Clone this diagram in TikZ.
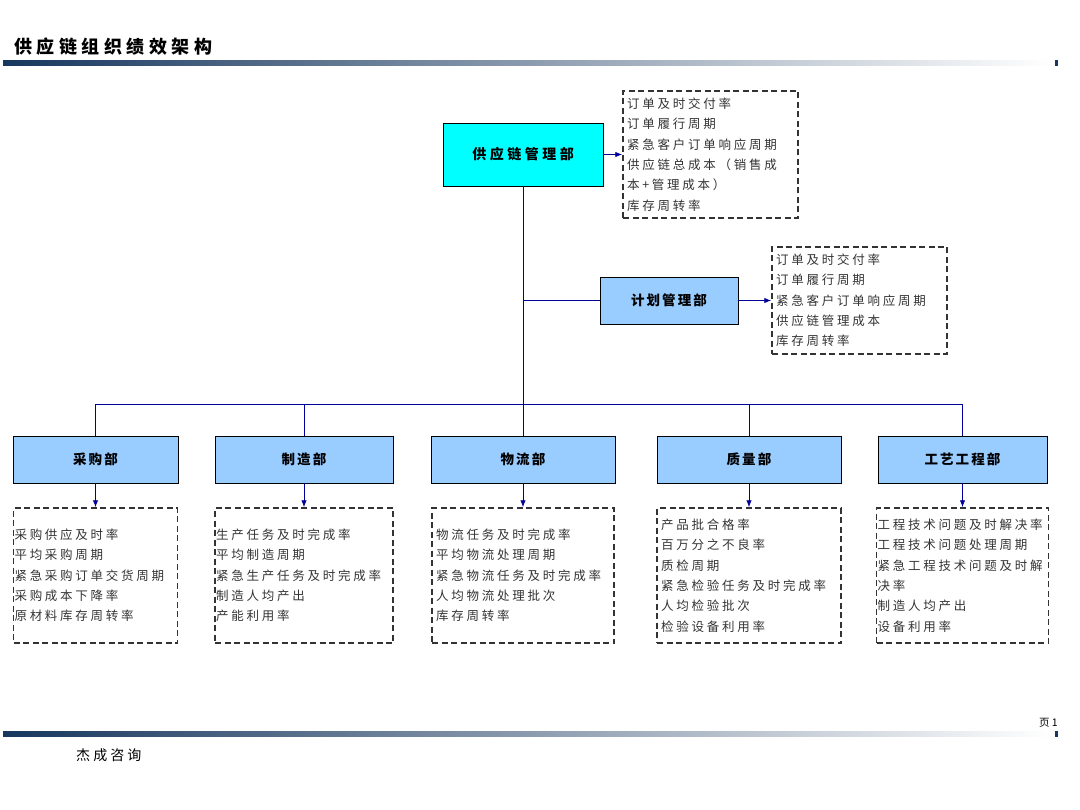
\documentclass[tikz,border=0pt]{standalone}
\usepackage{fontspec}
\setmainfont{Noto Sans CJK SC}
\newfontfamily\kpifont[LetterSpace=22]{Noto Sans CJK SC}
\newfontfamily\deptfont[LetterSpace=15]{Noto Sans CJK SC}
\newfontfamily\headfont[LetterSpace=25]{Noto Sans CJK SC}
\usepackage{xcolor}
\usetikzlibrary{shapes,arrows,arrows.meta}
\definecolor{linkblue}{HTML}{000099}
\definecolor{barnavy}{HTML}{17375E}
\definecolor{deptblue}{HTML}{99CCFF}
\definecolor{scmcyan}{HTML}{00FFFF}
\definecolor{kpigray}{HTML}{333333}

\begin{document}
\begin{tikzpicture}[x=1pt,y=-1pt,
    deptbox/.style={draw=black, fill=deptblue, minimum height=47pt, inner sep=0pt,
        font=\deptfont\bfseries\fontsize{13.5}{16}\selectfont},
    kpibox/.style={draw=kpigray, dash pattern=on 6pt off 3.5pt, line width=1.5pt,
        align=left, inner xsep=4pt, inner ysep=0pt, minimum height=135pt, text=kpigray,
        font=\kpifont\fontsize{12.5}{20.3}\selectfont},
    link/.style={draw=linkblue, line width=0.9pt},
    tobox/.style={link, -{Latex[length=7pt,width=5.5pt]}}]
    \useasboundingbox (0,0) rectangle (1080,810);
    % header and footer bars
    \shade[left color=barnavy, right color=white] (3,60.5) rectangle (1052,66);
    \fill[barnavy] (1055,60.5) rectangle (1058,66);
    \shade[left color=barnavy, right color=white] (3,731) rectangle (1052,736.5);
    \fill[barnavy] (1055,731) rectangle (1058,736.5);
    \node[anchor=west, inner sep=0pt, font=\headfont\bfseries\fontsize{18}{20}\selectfont] (title) at (14,47) {供应链组织绩效架构};
    \node[anchor=west, inner sep=0pt, font=\kpifont\fontsize{14}{16}\selectfont] (brand) at (76,755) {杰成咨询};
    \node[anchor=east, inner sep=0pt, font=\fontsize{10.5}{12}\selectfont] (page) at (1058,723) {页 1};

    % departments
    \node[deptbox, fill=scmcyan, minimum width=160pt, minimum height=63pt,
        font=\headfont\bfseries\fontsize{14}{16}\selectfont] (scm) at (523,154.5) {供应链管理部};
    \node[deptbox, minimum width=138pt] (plan) at (669,300.5) {计划管理部};
    \node[deptbox, minimum width=165pt] (cg) at (95.5,459.5) {采购部};
    \node[deptbox, minimum width=178pt] (zz) at (304,459.5) {制造部};
    \node[deptbox, minimum width=184pt] (wl) at (523,459.5) {物流部};
    \node[deptbox, minimum width=184pt] (zl) at (749,459.5) {质量部};
    \node[deptbox, minimum width=169pt] (gy) at (962.5,459.5) {工艺工程部};

    % indicators
    \node[kpibox, minimum height=127pt, text width=167pt] (kpi-scm) at (710.5,154.5)
        {订单及时交付率\\订单履行周期\\紧急客户订单响应周期\\供应链总成本（销售成\\本+管理成本）\\库存周转率};
    \node[kpibox, minimum height=107pt, text width=167pt] (kpi-plan) at (859.5,300.5)
        {订单及时交付率\\订单履行周期\\紧急客户订单响应周期\\供应链管理成本\\库存周转率};
    \node[kpibox, inner xsep=1pt, text width=162pt] (kpi-cg) at (95.5,575.5)
        {采购供应及时率\\平均采购周期\\紧急采购订单交货周期\\采购成本下降率\\原材料库存周转率};
    \node[kpibox, inner xsep=1pt, text width=176pt] (kpi-zz) at (304,575.5)
        {生产任务及时完成率\\平均制造周期\\紧急生产任务及时完成率\\制造人均产出\\产能利用率};
    \node[kpibox, text width=174pt] (kpi-wl) at (523,575.5)
        {物流任务及时完成率\\平均物流处理周期\\紧急物流任务及时完成率\\人均物流处理批次\\库存周转率};
    \node[kpibox, text width=176pt] (kpi-zl) at (749,575.5)
        {产品批合格率\\百万分之不良率\\质检周期\\紧急检验任务及时完成率\\人均检验批次\\检验设备利用率};
    \node[kpibox, inner xsep=1pt, text width=170pt] (kpi-gy) at (962.5,575.5)
        {工程技术问题及时解决率\\工程技术问题处理周期\\紧急工程技术问题及时解\\决率\\制造人均产出\\设备利用率};

    % connectors
    \coordinate (bus) at (523,404);
    \draw[link] (scm.south) -- (bus);
    \draw[link] (plan.west) -- (plan.west -| scm.south);
    \foreach \d in {cg,zz,zl,gy}
        \draw[link] (bus) -| (\d.north);
    \draw[link] (bus) -- (wl.north);
    \foreach \d in {cg,zz,wl,zl,gy}
        \draw[tobox] (\d.south) -- (kpi-\d.north);
    \draw[tobox] (scm.east) -- (kpi-scm.west);
    \draw[tobox] (plan.east) -- (kpi-plan.west);
\end{tikzpicture}
\end{document}
